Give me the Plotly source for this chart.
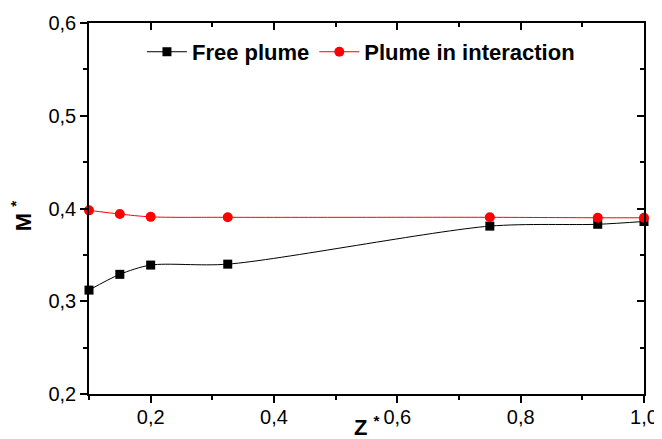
import plotly.graph_objects as go

z_star = [0.1, 0.15, 0.2, 0.325, 0.75, 0.925, 1.0]
free_plume = [0.312, 0.329, 0.339, 0.340, 0.381, 0.383, 0.386]
plume_interaction = [0.398, 0.394, 0.391, 0.3905, 0.3905, 0.390, 0.390]

x_ticks = [0.2, 0.4, 0.6, 0.8, 1.0]
y_ticks = [0.2, 0.3, 0.4, 0.5, 0.6]

FONT = "Liberation Sans, Arial, sans-serif"

fig = go.Figure()
fig.add_trace(go.Scatter(
    x=z_star, y=free_plume, name="<b>Free plume</b>", mode="lines+markers",
    line=dict(color="black", width=1, shape="spline", smoothing=0.8),
    marker=dict(symbol="square", size=9, color="black"), cliponaxis=False,
))
fig.add_trace(go.Scatter(
    x=z_star, y=plume_interaction, name="<b>Plume in interaction</b>", mode="lines+markers",
    line=dict(color="#ff0000", width=1, shape="spline", smoothing=0.8),
    marker=dict(symbol="circle", size=10, color="#ff0000"), cliponaxis=False,
))
# invisible trace to activate mirrored axes (top/right with inward ticks)
fig.add_trace(go.Scatter(x=[z_star[0]], y=[free_plume[0]], xaxis="x2", yaxis="y2",
                         mode="markers", marker=dict(opacity=0), showlegend=False,
                         hoverinfo="skip"))

axis_common = dict(showgrid=False, zeroline=False, showline=True, linecolor="black",
                   linewidth=1.5, tickcolor="black", tickwidth=1.5, automargin=False,
                   tickfont=dict(family=FONT, size=20, color="black"))

# the page body has an 8px default margin, so the figure is sized to fit after it
fig.update_layout(
    width=654, height=431,
    paper_bgcolor="white", plot_bgcolor="white",
    margin=dict(l=81, r=18, t=15, b=45, autoexpand=False),
    separators=",.",
    font=dict(family=FONT, color="black"),
    xaxis=dict(range=[0.1, 1.0], tickvals=x_ticks, tickformat=".1f", ticks="outside",
               ticklen=7, ticklabelstandoff=-3,
               minor=dict(dtick=0.1, tick0=0, ticks="outside", ticklen=4,
                          tickcolor="black", tickwidth=1.5),
               **axis_common),
    yaxis=dict(range=[0.2, 0.6], tickvals=y_ticks, tickformat=".1f", ticks="outside",
               ticklen=7, minor=dict(dtick=0.05, tick0=0, ticks="outside", ticklen=4,
                                     tickcolor="black", tickwidth=1.5),
               **axis_common),
    xaxis2=dict(overlaying="x", side="top", range=[0.1, 1.0], tickvals=x_ticks,
                ticks="inside", ticklen=7, showticklabels=False,
                minor=dict(dtick=0.1, tick0=0, ticks="inside", ticklen=4,
                           tickcolor="black", tickwidth=1.5),
                **axis_common),
    yaxis2=dict(overlaying="y", side="right", range=[0.2, 0.6], tickvals=y_ticks,
                ticks="inside", ticklen=7, showticklabels=False,
                minor=dict(dtick=0.05, tick0=0, ticks="inside", ticklen=4,
                           tickcolor="black", tickwidth=1.5),
                **axis_common),
    legend=dict(orientation="h", x=0.49, y=0.922, xanchor="center", yanchor="middle",
                bgcolor="rgba(0,0,0,0)", font=dict(family=FONT, size=22, color="black"),
                itemwidth=40, tracegroupgap=0),
    showlegend=True,
)

fig.add_annotation(text="<b>Z <sup>*</sup></b>", xref="paper", yref="paper",
                   x=0.5, y=-0.085, xanchor="center", yanchor="middle", showarrow=False,
                   font=dict(family=FONT, size=22, color="black"))
fig.add_annotation(text="<b>M <sup>*</sup></b>", xref="paper", yref="paper",
                   x=-0.122, y=0.48, xanchor="center", yanchor="middle", showarrow=False,
                   textangle=-90, font=dict(family=FONT, size=22, color="black"))

fig.write_html("out.html")
